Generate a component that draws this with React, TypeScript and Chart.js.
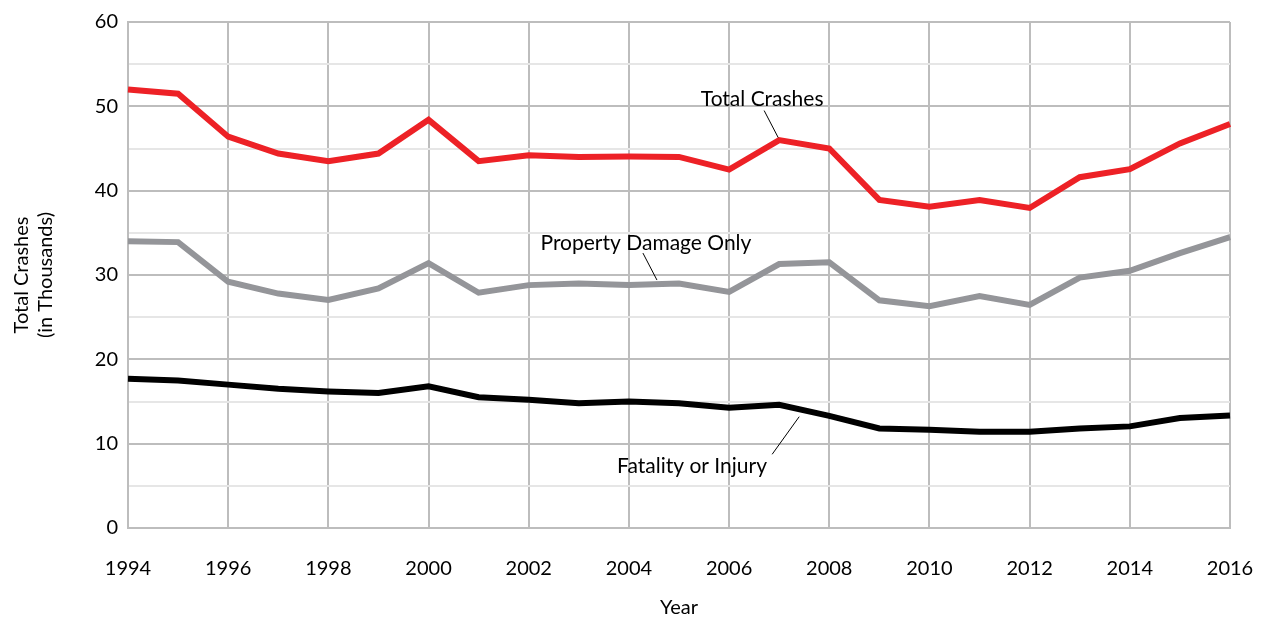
import React, { useEffect, useRef } from 'react';
import { Chart, registerables } from 'chart.js';

Chart.register(...registerables);

const years = [1994, 1995, 1996, 1997, 1998, 1999, 2000, 2001, 2002, 2003, 2004, 2005, 2006, 2007, 2008, 2009, 2010, 2011, 2012, 2013, 2014, 2015, 2016];
const totalCrashes = [52.0, 51.5, 46.4, 44.4, 43.5, 44.4, 48.4, 43.5, 44.2, 44.0, 44.05, 44.0, 42.5, 46.0, 45.0, 38.9, 38.1, 38.9, 37.95, 41.6, 42.55, 45.6, 47.9];
const propertyDamageOnly = [34.0, 33.9, 29.2, 27.8, 27.05, 28.4, 31.4, 27.9, 28.8, 29.0, 28.8, 29.0, 28.0, 31.3, 31.5, 27.0, 26.3, 27.5, 26.45, 29.7, 30.5, 32.6, 34.5];
const fatalityOrInjury = [17.7, 17.5, 17.0, 16.5, 16.2, 16.0, 16.8, 15.5, 15.2, 14.8, 15.0, 14.8, 14.25, 14.6, 13.3, 11.8, 11.65, 11.4, 11.4, 11.8, 12.05, 13.05, 13.35];

const seriesNames = ['Total Crashes', 'Property Damage Only', 'Fatality or Injury'];
const seriesColors = ['#ed2126', '#949599', '#000000'];

// series label annotations, placed in data coordinates (year, thousands)
const labelText = ['Total Crashes', 'Property Damage Only', 'Fatality or Injury'];
const labelAt = [[2006.66, 50.8], [2004.34, 33.8], [2005.26, 7.3]];
const leaderFrom = [[2006.7, 49.5], [2004.28, 32.6], [2006.86, 8.74]];
const leaderTo = [[2006.98, 46.3], [2004.56, 29.4], [2007.4, 13.2]];

const FONT = 'Lato, "Open Sans", sans-serif';

const annotationPlugin = {
  id: 'seriesLabels',
  afterDatasetsDraw(chart: any) {
    const { ctx, scales } = chart;
    const xs = scales.x;
    const ys = scales.y;
    const px = (yr: number) => xs.getPixelForValue(yr - years[0]);
    const py = (v: number) => ys.getPixelForValue(v);
    ctx.save();
    ctx.font = `21px ${FONT}`;
    ctx.fillStyle = '#000';
    ctx.textAlign = 'center';
    ctx.textBaseline = 'middle';
    ctx.strokeStyle = '#000';
    ctx.lineWidth = 1;
    labelText.forEach((t, i) => {
      ctx.fillText(t, px(labelAt[i][0]), py(labelAt[i][1]));
      ctx.beginPath();
      ctx.moveTo(px(leaderFrom[i][0]), py(leaderFrom[i][1]));
      ctx.lineTo(px(leaderTo[i][0]), py(leaderTo[i][1]));
      ctx.stroke();
    });
    ctx.restore();
  },
};

export default function App() {
  const ref = useRef<HTMLCanvasElement | null>(null);

  useEffect(() => {
    document.body.style.margin = '0';
    if (!ref.current) return;
    const data = [totalCrashes, propertyDamageOnly, fatalityOrInjury];
    const chart = new Chart(ref.current, {
      type: 'line',
      data: {
        labels: years.map(String),
        datasets: data.map((d, i) => ({
          label: seriesNames[i],
          data: d,
          borderColor: seriesColors[i],
          backgroundColor: seriesColors[i],
          borderWidth: 6,
          pointRadius: 0,
          tension: 0,
          fill: false,
          borderJoinStyle: 'miter' as const,
        })),
      },
      options: {
        responsive: false,
        animation: false,
        layout: { padding: { top: 20, right: 42, left: 0, bottom: 0 } },
        plugins: {
          legend: { display: false },
          tooltip: { enabled: false },
        },
        scales: {
          x: {
            type: 'category',
            offset: false,
            afterFit: (s: any) => { s.height = 94; },
            grid: {
              drawTicks: true,
              tickLength: 29,
              tickColor: 'rgba(0,0,0,0)',
              lineWidth: 2,
              color: (c: any) => (c.index % 2 === 0 ? '#bdbdbd' : 'rgba(0,0,0,0)'),
            },
            border: { display: true, color: '#bdbdbd', width: 2 },
            ticks: {
              autoSkip: false,
              maxRotation: 0,
              padding: 0,
              color: '#000',
              font: { family: FONT, size: 20 },
              callback: (_v: any, i: number) => (i % 2 === 0 ? String(years[i]) : ''),
            },
            title: {
              display: true,
              text: 'Year',
              color: '#000',
              font: { family: FONT, size: 20 },
              padding: { top: 0, bottom: 2 },
            },
          },
          y: {
            min: 0,
            max: 60,
            afterFit: (s: any) => { s.width = 128; },
            grid: {
              drawTicks: false,
              lineWidth: 2,
              color: (c: any) => (c.tick && c.tick.value % 10 === 0 ? '#bdbdbd' : '#e6e6e6'),
            },
            border: { display: true, color: '#bdbdbd', width: 2 },
            ticks: {
              stepSize: 5,
              padding: 10,
              color: '#000',
              font: { family: FONT, size: 20 },
              callback: (v: any) => (Number(v) % 10 === 0 ? String(v) : ''),
            },
            title: {
              display: true,
              text: ['Total Crashes', '(in Thousands)'],
              color: '#000',
              font: { family: FONT, size: 20 },
              padding: { top: 10, bottom: 0 },
            },
          },
        },
      },
      plugins: [annotationPlugin],
    });
    return () => chart.destroy();
  }, []);

  return (
    <div style={{ width: 1272, height: 622 }}>
      <canvas ref={ref} width={1272} height={622} />
    </div>
  );
}
